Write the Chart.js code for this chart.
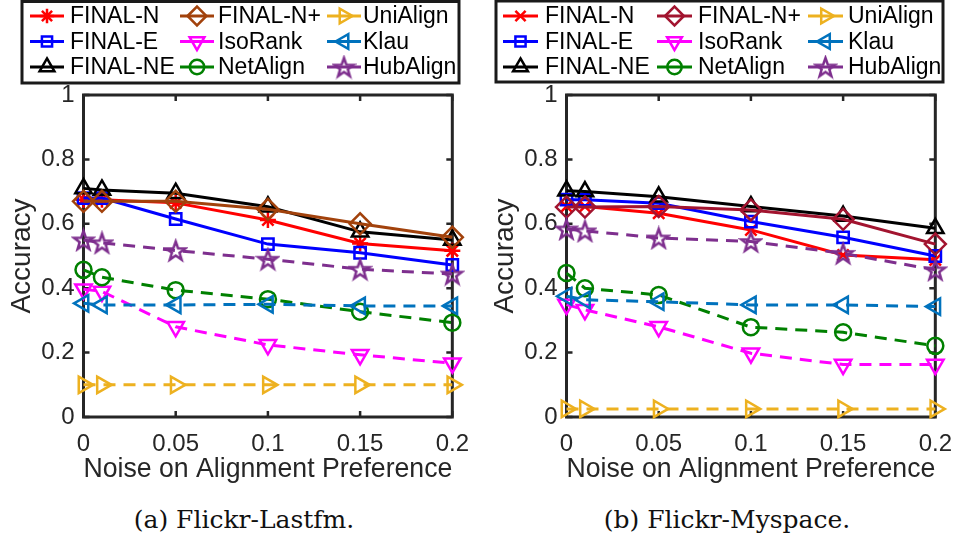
<!DOCTYPE html>
<html>
<head>
<meta charset="utf-8">
<script src="https://cdn.jsdelivr.net/npm/chart.js@4.4.1/dist/chart.umd.min.js"></script>
<style>
  body { margin: 0; background: #fff; width: 964px; height: 544px; position: relative; overflow: hidden; }
  canvas { position: absolute; top: 0; }
  .cap { position: absolute; top: 507px; width: 482px; text-align: center; font-family: "DejaVu Serif", serif; font-size: 25px; line-height: 25px; color: #111; }
</style>
</head>
<body>
<canvas id="lastfm" width="482" height="490" style="left:0px"></canvas>
<canvas id="myspace" width="482" height="490" style="left:483px"></canvas>
<div class="cap" style="left:3px">(a) Flickr-Lastfm.</div>
<div class="cap" style="left:486px">(b) Flickr-Myspace.</div>
<script>
// x positions (noise level) and axis ticks
const noise = [0, 0.01, 0.05, 0.1, 0.15, 0.2];
const xTicks = [0, 0.05, 0.1, 0.15, 0.2];
const yTicks = [0, 0.2, 0.4, 0.6, 0.8, 1];
const methods = ['FINAL-N', 'FINAL-E', 'FINAL-NE', 'FINAL-N+', 'IsoRank', 'NetAlign', 'UniAlign', 'Klau', 'HubAlign'];

// (a) Flickr-Lastfm
const lfFinalN  = [0.675, 0.675, 0.665, 0.612, 0.539, 0.516];
const lfFinalE  = [0.68, 0.68, 0.615, 0.537, 0.51, 0.472];
const lfFinalNE = [0.71, 0.705, 0.695, 0.653, 0.575, 0.55];
const lfFinalNp = [0.67, 0.67, 0.67, 0.645, 0.60, 0.558];
const lfIsoRank = [0.397, 0.39, 0.28, 0.224, 0.193, 0.167];
const lfNetAlign = [0.457, 0.434, 0.394, 0.366, 0.327, 0.293];
const lfUniAlign = [0.1, 0.1, 0.1, 0.1, 0.1, 0.1];
const lfKlau    = [0.353, 0.348, 0.348, 0.35, 0.345, 0.345];
const lfHubAlign = [0.55, 0.541, 0.517, 0.49, 0.459, 0.444];

// (b) Flickr-Myspace
const msFinalN  = [0.654, 0.654, 0.633, 0.581, 0.503, 0.488];
const msFinalE  = [0.675, 0.675, 0.664, 0.607, 0.558, 0.50];
const msFinalNE = [0.703, 0.70, 0.684, 0.654, 0.624, 0.586];
const msFinalNp = [0.652, 0.652, 0.654, 0.643, 0.614, 0.537];
const msIsoRank = [0.349, 0.333, 0.28, 0.198, 0.163, 0.163];
const msNetAlign = [0.447, 0.40, 0.379, 0.279, 0.263, 0.221];
const msUniAlign = [0.025, 0.025, 0.025, 0.025, 0.025, 0.025];
const msKlau    = [0.375, 0.364, 0.358, 0.348, 0.348, 0.343];
const msHubAlign = [0.584, 0.578, 0.556, 0.545, 0.508, 0.457];

const axisColor = '#262626';
const sans = '"Liberation Sans", Arial, sans-serif';

function pentagram(color, r) {
  const c = document.createElement('canvas');
  const s = Math.ceil(r * 2 + 5);
  c.width = s; c.height = s;
  const g = c.getContext('2d');
  g.strokeStyle = color; g.lineWidth = 2.5;
  g.beginPath();
  for (let k = 0; k < 10; k++) {
    const rr = k % 2 ? r * 0.4 : r;
    const a = -Math.PI / 2 + k * Math.PI / 5;
    const px = s / 2 + rr * Math.cos(a), py = s / 2 + 1 + rr * Math.sin(a);
    if (k) g.lineTo(px, py); else g.moveTo(px, py);
  }
  g.closePath();
  g.stroke();
  return c;
}

// marker / line style for each method
function styles(nPlusColor, finalNMarker) {
  return [
    { color: '#FF0000', point: finalNMarker, rot: 0, r: 8, dash: false },
    { color: '#0000FF', point: 'rect', rot: 0, r: 8, dash: false },
    { color: '#000000', point: 'triangle', rot: 0, r: 9.5, dash: false },
    { color: nPlusColor, point: 'rectRot', rot: 0, r: 10.5, dash: false },
    { color: '#FF00FF', point: 'triangle', rot: 180, r: 9.5, dash: true },
    { color: '#008000', point: 'circle', rot: 0, r: 8, dash: true },
    { color: '#EDB120', point: 'triangle', rot: 90, r: 9.5, dash: true },
    { color: '#0072BD', point: 'triangle', rot: 270, r: 9.5, dash: true },
    { color: '#7E2F8E', point: pentagram('#7E2F8E', 10), rot: 0, r: 10, dash: true }
  ];
}

function buildDatasets(series, st) {
  return series.map((vals, i) => ({
    label: methods[i],
    data: noise.map((x, j) => ({ x: x, y: vals[j] })),
    borderColor: st[i].color,
    backgroundColor: 'rgba(0,0,0,0)',
    pointBorderColor: st[i].color,
    pointBackgroundColor: 'rgba(0,0,0,0)',
    pointStyle: st[i].point,
    pointRotation: st[i].rot,
    pointRadius: st[i].r,
    pointHoverRadius: st[i].r,
    pointBorderWidth: 2.5,
    borderWidth: 3,
    borderDash: st[i].dash ? [12, 8] : [],
    tension: 0,
    clip: false,
    order: series.length - i
  }));
}

// box around the axes with inward ticks
const framePlugin = {
  id: 'frame',
  beforeDatasetsDraw(chart) {
    const { ctx, chartArea: a, scales } = chart;
    ctx.save();
    ctx.strokeStyle = axisColor;
    ctx.lineWidth = 3;
    ctx.strokeRect(a.left, a.top, a.right - a.left, a.bottom - a.top);
    ctx.lineWidth = 2.5;
    ctx.beginPath();
    xTicks.forEach(v => {
      const px = scales.x.getPixelForValue(v);
      ctx.moveTo(px, a.bottom); ctx.lineTo(px, a.bottom - 6);
      ctx.moveTo(px, a.top); ctx.lineTo(px, a.top + 6);
    });
    yTicks.forEach(v => {
      const py = scales.y.getPixelForValue(v);
      ctx.moveTo(a.left, py); ctx.lineTo(a.left + 6, py);
      ctx.moveTo(a.right, py); ctx.lineTo(a.right - 6, py);
    });
    ctx.stroke();
    ctx.restore();
  }
};

// three-column boxed legend filled column by column
const boxLegend = {
  id: 'boxLegend',
  afterDraw(chart, args, opts) {
    const ctx = chart.ctx;
    const st = opts.styles;
    ctx.save();
    ctx.fillStyle = '#fff';
    ctx.fillRect(opts.box[0], opts.box[1], opts.box[2], opts.box[3]);
    ctx.strokeStyle = '#1a1a1a';
    ctx.lineWidth = 3;
    ctx.strokeRect(opts.box[0], opts.box[1], opts.box[2], opts.box[3]);
    ctx.font = '23px ' + sans;
    ctx.textBaseline = 'middle';
    methods.forEach((name, i) => {
      const col = Math.floor(i / 3), row = i % 3;
      const x0 = opts.lineX[col], x1 = x0 + opts.lineLen, y = opts.rows[row];
      ctx.strokeStyle = st[i].color;
      ctx.lineWidth = 3;
      ctx.beginPath(); ctx.moveTo(x0, y); ctx.lineTo(x1, y); ctx.stroke();
      ctx.fillStyle = 'rgba(0,0,0,0)';
      ctx.lineWidth = 2.5;
      Chart.helpers.drawPoint(ctx, { pointStyle: st[i].point, rotation: st[i].rot, radius: st[i].r * 0.9, borderWidth: 2.5 }, (x0 + x1) / 2, y);
      ctx.fillStyle = '#000';
      ctx.fillText(name, opts.textX[col], y + 1);
    });
    ctx.restore();
  }
};

function makeChart(id, series, st, legendOpts) {
  return new Chart(document.getElementById(id).getContext('2d'), {
    type: 'line',
    data: { datasets: buildDatasets(series, st) },
    options: {
      responsive: false,
      animation: false,
      events: [],
      layout: { padding: { left: 0, right: 22, top: 95, bottom: 3 } },
      plugins: {
        legend: { display: false },
        tooltip: { enabled: false },
        boxLegend: Object.assign({ styles: st }, legendOpts)
      },
      scales: {
        x: {
          type: 'linear', min: 0, max: 0.2,
          afterBuildTicks: s => { s.ticks = xTicks.map(v => ({ value: v })); },
          afterFit: s => { s.height = 70; },
          grid: { display: false, drawTicks: false },
          border: { display: false },
          ticks: { color: axisColor, font: { family: sans, size: 24 }, padding: 13, maxRotation: 0, autoSkip: false, callback: v => String(v) },
          title: { display: true, text: 'Noise on Alignment Preference', color: axisColor, font: { family: sans, size: 28 }, padding: { top: 0, bottom: 1 } }
        },
        y: {
          type: 'linear', min: 0, max: 1,
          afterBuildTicks: s => { s.ticks = yTicks.map(v => ({ value: v })); },
          afterFit: s => { s.width = 83.5; },
          grid: { display: false, drawTicks: false },
          border: { display: false },
          ticks: { color: axisColor, font: { family: sans, size: 24 }, padding: 9, callback: v => String(v) },
          title: { display: true, text: 'Accuracy', color: axisColor, font: { family: sans, size: 28 }, padding: { top: 5, bottom: 0 } }
        }
      }
    },
    plugins: [framePlugin, boxLegend]
  });
}

makeChart('lastfm',
  [lfFinalN, lfFinalE, lfFinalNE, lfFinalNp, lfIsoRank, lfNetAlign, lfUniAlign, lfKlau, lfHubAlign],
  styles('#A2420C', 'star'),
  { box: [22, 1.5, 437, 81.5], lineX: [30, 180, 327], lineLen: 34, textX: [70, 218, 363], rows: [16, 41.5, 67] });

makeChart('myspace',
  [msFinalN, msFinalE, msFinalNE, msFinalNp, msIsoRank, msNetAlign, msUniAlign, msKlau, msHubAlign],
  styles('#A2142F', 'crossRot'),
  { box: [13, 1, 447, 81], lineX: [20, 174, 325], lineLen: 35, textX: [62, 215, 365], rows: [16, 41.5, 67] });
</script>
</body>
</html>
